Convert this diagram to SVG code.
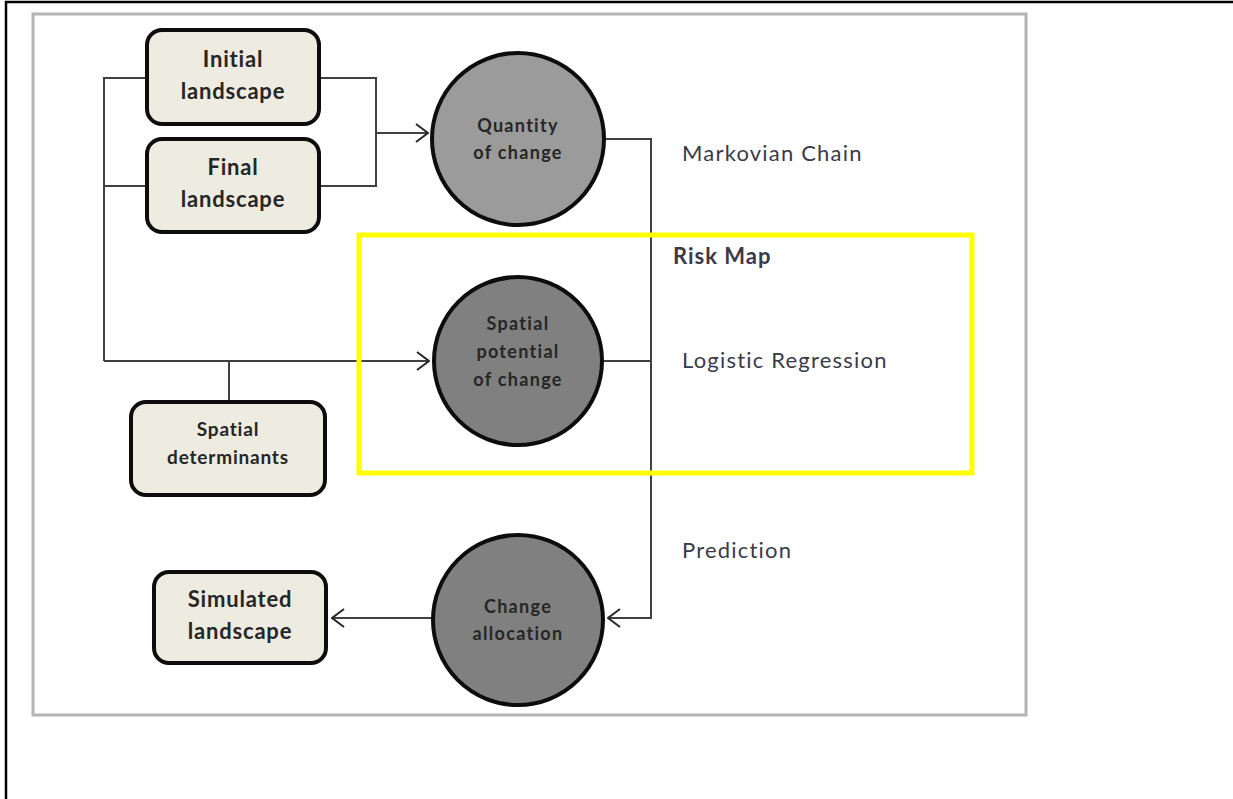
<svg xmlns="http://www.w3.org/2000/svg" width="1233" height="799" viewBox="0 0 1233 799">
<defs>
<style>
.box{fill:#eeebe1;stroke:#0d0d0d;stroke-width:4}
.circ{stroke:#0d0d0d;stroke-width:4}
.bt{font-family:Lato,"Open Sans","Liberation Sans",sans-serif;font-weight:bold;font-size:22px;letter-spacing:0.8px;fill:#262626;text-anchor:middle}
.ct{font-family:Lato,"Open Sans","Liberation Sans",sans-serif;font-weight:bold;font-size:18px;letter-spacing:1.3px;fill:#262626;text-anchor:middle}
.lab{font-family:Lato,"Open Sans","Liberation Sans",sans-serif;font-size:22px;letter-spacing:1.2px;fill:#3a3a4a}
.con{fill:none;stroke:#404040;stroke-width:2}
</style>
<marker id="arr" viewBox="0 0 14 20" refX="13" refY="10" markerWidth="14" markerHeight="20" markerUnits="userSpaceOnUse" orient="auto">
<path d="M1,1 L13,10 L1,19" fill="none" stroke="#262626" stroke-width="2"/>
</marker>
</defs>
<rect width="1233" height="799" fill="#ffffff"/>
<rect x="6" y="2" width="1300" height="900" fill="none" stroke="#000" stroke-width="2.5"/>
<rect x="33" y="14" width="993" height="701" fill="none" stroke="#b4b4b4" stroke-width="3"/>
<g id="connectors">
<path class="con" d="M147,78 H104 V361"/>
<path class="con" d="M147,186 H104"/>
<path class="con" d="M104,361 H429" marker-end="url(#arr)"/>
<path class="con" d="M229,361 V401"/>
<path class="con" d="M320,78 H376 V186 H320"/>
<path class="con" d="M376,133 H428" marker-end="url(#arr)"/>
<path class="con" d="M605,139 H651 V618 H608" marker-end="url(#arr)" stroke="#555"/>
<path class="con" d="M603,361 H651"/>
<path class="con" d="M432,618 H332" marker-end="url(#arr)"/>
</g>
<g id="risk-map">
<rect x="359" y="235" width="613" height="238" fill="none" stroke="#ffff00" stroke-width="5"/>
<text x="673" y="264" class="lab" style="font-weight:bold;letter-spacing:1px">Risk Map</text>
</g>
<g id="initial-landscape">
<rect class="box" x="147" y="30" width="172" height="94" rx="15"/>
<text class="bt" x="233" y="67">Initial</text>
<text class="bt" x="233" y="99">landscape</text>
</g>
<g id="final-landscape">
<rect class="box" x="147" y="139" width="172" height="93" rx="15"/>
<text class="bt" x="233" y="175">Final</text>
<text class="bt" x="233" y="207">landscape</text>
</g>
<g id="spatial-determinants">
<rect class="box" x="131" y="402" width="194" height="93" rx="15"/>
<text class="bt" x="228" y="436" style="font-size:19px">Spatial</text>
<text class="bt" x="228" y="464" style="font-size:19px">determinants</text>
</g>
<g id="simulated-landscape">
<rect class="box" x="154" y="572" width="172" height="91" rx="15"/>
<text class="bt" x="240" y="607">Simulated</text>
<text class="bt" x="240" y="639">landscape</text>
</g>
<g id="quantity-of-change">
<circle class="circ" cx="518" cy="139" r="86" fill="#9b9b9b"/>
<text class="ct" x="518" y="132">Quantity</text>
<text class="ct" x="518" y="159">of change</text>
</g>
<g id="spatial-potential">
<circle class="circ" cx="518" cy="361" r="84" fill="#808080"/>
<text class="ct" x="518" y="330">Spatial</text>
<text class="ct" x="518" y="358">potential</text>
<text class="ct" x="518" y="386">of change</text>
</g>
<g id="change-allocation">
<circle class="circ" cx="518" cy="620" r="85" fill="#808080"/>
<text class="ct" x="518" y="613">Change</text>
<text class="ct" x="518" y="640">allocation</text>
</g>
<g id="labels">
<text class="lab" x="682" y="161">Markovian Chain</text>
<text class="lab" x="682" y="368">Logistic Regression</text>
<text class="lab" x="682" y="558">Prediction</text>
</g>
</svg>
